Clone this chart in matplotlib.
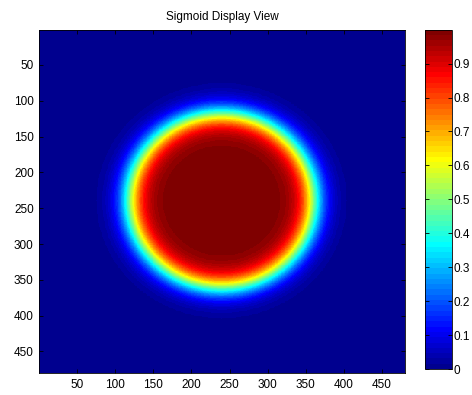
import numpy as np
import matplotlib
matplotlib.use("Agg")
import matplotlib.pyplot as plt
from matplotlib.colors import ListedColormap

# image size and sigmoid parameters
IMG_SIZE = 480
CENTER_X = 240
CENTER_Y = 240
RADIUS = 120.5
EDGE_WIDTH = 10.5

TITLE = "Sigmoid Display View"
X_TICKS = [50, 100, 150, 200, 250, 300, 350, 400, 450]
Y_TICKS = [50, 100, 150, 200, 250, 300, 350, 400, 450]
CBAR_TICKS = [0, 0.1, 0.2, 0.3, 0.4, 0.5, 0.6, 0.7, 0.8, 0.9]
CBAR_LABELS = ["0", "0.1", "0.2", "0.3", "0.4", "0.5", "0.6", "0.7", "0.8", "0.9"]


def matlab_jet(m=64):
    # same construction as MATLAB's jet(m)
    n = int(np.ceil(m / 4))
    u = np.concatenate([np.arange(1, n + 1) / n, np.ones(n - 1), np.arange(n, 0, -1) / n])
    g = int(np.ceil(n / 2)) - (1 if m % 4 == 1 else 0) + np.arange(1, len(u) + 1)
    r = g + n
    b = g - n
    J = np.zeros((m, 3))
    ok = r <= m
    J[r[ok] - 1, 0] = u[ok]
    ok = g <= m
    J[g[ok] - 1, 1] = u[ok]
    ok = b >= 1
    J[b[ok] - 1, 2] = u[ok]
    return ListedColormap(J)


plt.rcParams["font.family"] = ["Liberation Sans", "DejaVu Sans"]
plt.rcParams["font.size"] = 8.5

xx, yy = np.meshgrid(np.arange(1, IMG_SIZE + 1), np.arange(1, IMG_SIZE + 1))
dist = np.hypot(xx - CENTER_X, yy - CENTER_Y)
img = 1.0 / (1.0 + np.exp((dist - RADIUS) / EDGE_WIDTH))

fig = plt.figure(figsize=(4.72, 3.95), dpi=100)
ax = fig.add_axes([0.0833, 0.0549, 0.7754, 0.8704])
im = ax.imshow(img, cmap=matlab_jet(64), vmin=0, vmax=1, aspect="auto",
               interpolation="nearest",
               extent=[0.5, IMG_SIZE + 0.5, IMG_SIZE + 0.5, 0.5])
ax.set_xticks(X_TICKS)
ax.set_yticks(Y_TICKS)
ax.tick_params(direction="in", length=3, width=0.6, top=True, right=True, pad=4)
for s in ax.spines.values():
    s.set_linewidth(0.6)
ax.set_title(TITLE, fontsize=8.5, pad=7)

cax = fig.add_axes([0.9004, 0.0658, 0.0578, 0.859])
cb = fig.colorbar(im, cax=cax, ticks=CBAR_TICKS)
cb.ax.set_yticklabels(CBAR_LABELS)
cb.ax.tick_params(direction="in", length=3, width=0.6, left=True, right=True, pad=1)
cb.outline.set_linewidth(0.6)

fig.savefig("out.png", dpi=100)
